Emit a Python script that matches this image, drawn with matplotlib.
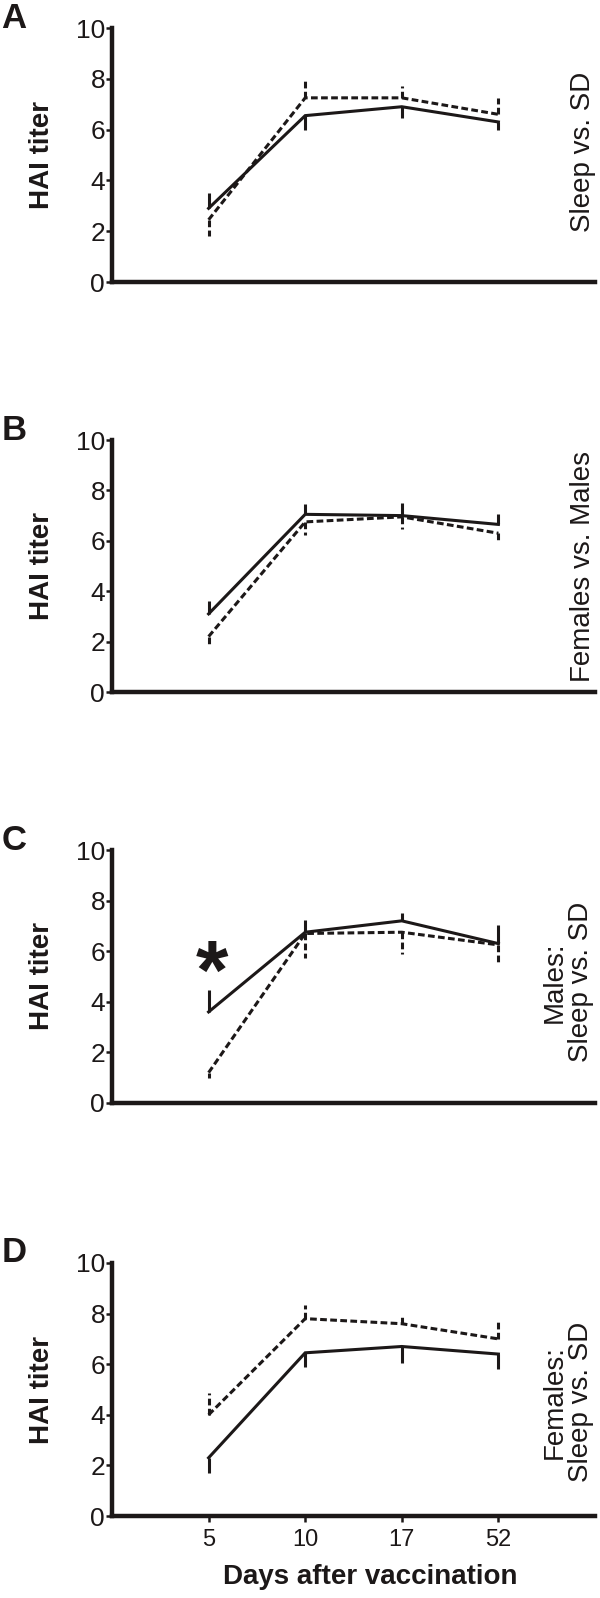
import numpy as np
import matplotlib.pyplot as plt

plt.rcParams['font.family'] = ['Liberation Sans', 'DejaVu Sans']

days = ["5", "10", "17", "52"]
letters = ["A", "B", "C", "D"]
side_labels = ["Sleep vs. SD", "Females vs. Males",
               "Males:\nSleep vs. SD", "Females:\nSleep vs. SD"]

# group means, one-sided SEM (sign = direction the bar is drawn)
solid_A = [2.9, 6.55, 6.9, 6.3]
solid_A_err = [0.6, -0.55, -0.45, -0.3]
dash_A = [2.45, 7.25, 7.25, 6.6]
dash_A_err = [-0.65, 0.65, 0.45, 0.65]

solid_B = [3.1, 7.05, 7.0, 6.65]
solid_B_err = [0.5, 0.4, 0.5, 0.4]
dash_B = [2.2, 6.75, 6.95, 6.3]
dash_B_err = [-0.4, -0.5, -0.5, -0.35]

solid_C = [3.6, 6.75, 7.2, 6.3]
solid_C_err = [0.85, 0.5, 0.3, 0.75]
dash_C = [1.2, 6.7, 6.75, 6.25]
dash_C_err = [-0.2, -0.95, -0.85, -0.75]

solid_D = [2.3, 6.45, 6.7, 6.4]
solid_D_err = [-0.6, -0.55, -0.65, -0.6]
dash_D = [4.0, 7.8, 7.6, 7.0]
dash_D_err = [0.85, 0.55, 0.25, 0.65]

solids = [(solid_A, solid_A_err), (solid_B, solid_B_err),
          (solid_C, solid_C_err), (solid_D, solid_D_err)]
dashes = [(dash_A, dash_A_err), (dash_B, dash_B_err),
          (dash_C, dash_C_err), (dash_D, dash_D_err)]

ink = "#1c1818"
W, H = 600, 1598
fig = plt.figure(figsize=(W / 100, H / 100), dpi=100)

# pixel positions of each panel (top, bottom) in the figure
panel_px = [(28, 282), (440, 692), (850, 1103), (1263, 1516)]
side_x = [583, 583, 568, 568]
side_y = [152, 567, 982, 1402]
dash_style = (0, (2.2, 1.1))
x = np.arange(1, 5)

for i, (top, bot) in enumerate(panel_px):
    ax = fig.add_axes([112 / W, 1 - bot / H, 483 / W, (bot - top) / H])
    for (vals, err), ls in ((solids[i], "-"), (dashes[i], dash_style)):
        vals = np.array(vals)
        err = np.array(err)
        ax.plot(x, vals, color=ink, lw=2.2, ls=ls, solid_joinstyle="miter",
                dash_joinstyle="miter")
        ax.vlines(x, vals, vals + err, color=ink, lw=2.2, linestyles=[ls])
    ax.set_xlim(0, 5)
    ax.set_ylim(0, 10)
    ax.set_yticks([0, 2, 4, 6, 8, 10])
    for s in ("top", "right"):
        ax.spines[s].set_visible(False)
    for s in ("left", "bottom"):
        ax.spines[s].set_linewidth(3.2)
        ax.spines[s].set_color(ink)
    ax.tick_params(axis="y", direction="out", length=4.5, width=1.8,
                   labelsize=19, pad=0.5, colors=ink)
    ax.set_ylabel("HAI titer", fontsize=20, fontweight="bold", color=ink)
    ax.yaxis.set_label_coords(-0.118, 0.5)
    if i == 3:
        ax.set_xticks(x)
        ax.set_xticklabels(days)
        ax.tick_params(axis="x", direction="out", length=4.5, width=1.8,
                       labelsize=17, pad=5, colors=ink)
        ax.set_xlabel("Days after vaccination", fontsize=20, fontweight="bold",
                      color=ink)
        ax.xaxis.set_label_coords(0.535, -0.19)
    else:
        ax.set_xticks([])
    if i == 2:
        ax.text(1.035, 4.1, "*", fontsize=60, fontweight="bold", ha="center",
                va="baseline", color=ink)
    fig.text(14 / W, 1 - (top - 10) / H, letters[i], fontsize=25,
             fontweight="bold", ha="center", va="center", color=ink)
    fig.text(side_x[i] / W, 1 - side_y[i] / H, side_labels[i], fontsize=20,
             rotation=90, ha="center", va="center", multialignment="center",
             color=ink, linespacing=1.0)

fig.savefig("out.png", dpi=100)
